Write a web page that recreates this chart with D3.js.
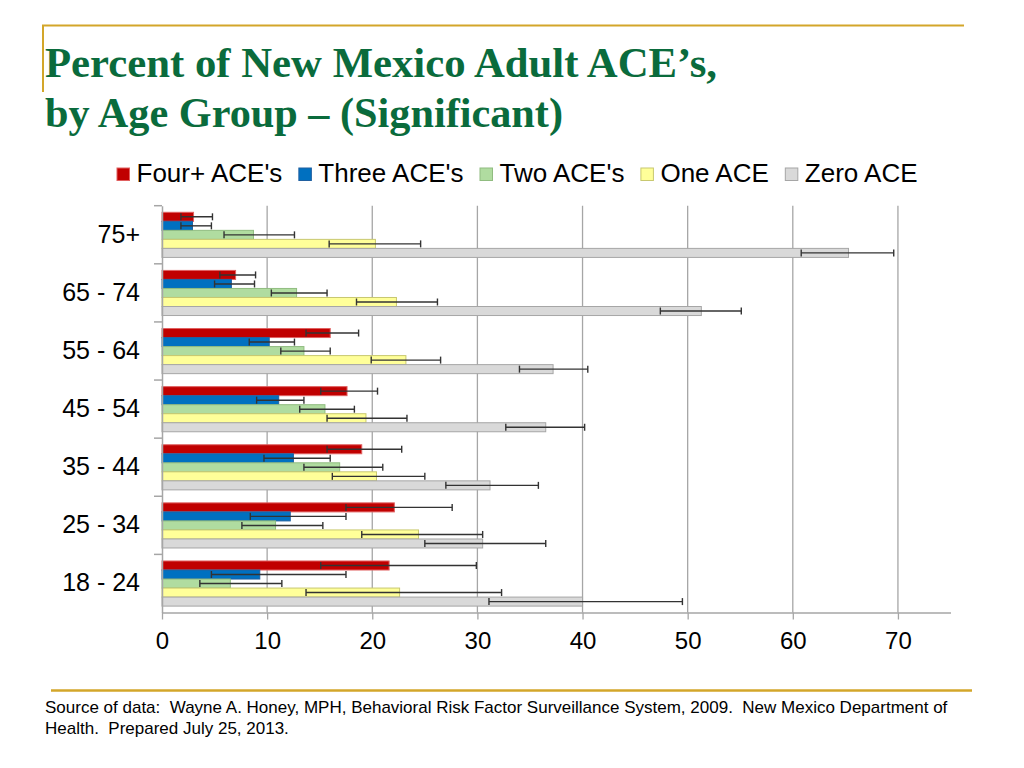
<!DOCTYPE html>
<html>
<head>
<meta charset="utf-8">
<script src="https://cdn.jsdelivr.net/npm/d3@7/dist/d3.min.js"></script>
<style>
  html, body { margin: 0; padding: 0; background: #fff; }
  svg { display: block; }
  text { font-family: "Liberation Sans", Arial, sans-serif; }
</style>
</head>
<body>
<svg id="chart" width="1024" height="768"></svg>
<script>
// ---------------- DATA ----------------
const categories = ["75+", "65 - 74", "55 - 64", "45 - 54", "35 - 44", "25 - 34", "18 - 24"];
const seriesNames = ["Four+ ACE's", "Three ACE's", "Two ACE's", "One ACE", "Zero ACE"];
const seriesFill   = ["#C00000", "#0070C0", "#B0DCA0", "#FFFF99", "#D9D9D9"];
const seriesStroke = ["#E06060", "#2060A0", "#90BC80", "#C8C870", "#A6A6A6"];

const fourVal   = [3.0, 7.0, 16.0, 17.6, 19.0, 22.1, 21.6];
const fourLo    = [1.8, 5.5, 13.7, 15.1, 15.7, 17.5, 15.1];
const fourHi    = [4.8, 8.9, 18.7, 20.5, 22.8, 27.6, 29.9];
const threeVal  = [2.9, 6.6, 10.2, 11.1, 12.5, 12.2, 9.3];
const threeLo   = [1.8, 5.0, 8.3, 9.0, 9.7, 8.4, 4.7];
const threeHi   = [4.7, 8.8, 12.6, 13.5, 16.0, 17.5, 17.5];
const twoVal    = [8.7, 12.8, 13.5, 15.5, 16.9, 10.8, 6.5];
const twoLo     = [5.9, 10.4, 11.3, 13.1, 13.5, 7.6, 3.6];
const twoHi     = [12.6, 15.7, 16.0, 18.3, 21.0, 15.3, 11.4];
const oneVal    = [20.3, 22.3, 23.2, 19.4, 20.4, 24.4, 22.6];
const oneLo     = [15.9, 18.5, 19.9, 15.7, 16.2, 19.0, 13.7];
const oneHi     = [24.6, 26.2, 26.5, 23.3, 25.0, 30.5, 32.3];
const zeroVal   = [65.3, 51.3, 37.2, 36.5, 31.2, 30.5, 40.0];
const zeroLo    = [60.8, 47.4, 34.0, 32.7, 27.0, 25.0, 31.1];
const zeroHi    = [69.6, 55.1, 40.5, 40.2, 35.8, 36.5, 49.5];

const xTicks = [0, 10, 20, 30, 40, 50, 60, 70];

const titleLines = ["Percent of New Mexico Adult ACE\u2019s,", "by Age Group \u2013 (Significant)"];
const sourceLines = [
  "Source of data:  Wayne A. Honey, MPH, Behavioral Risk Factor Surveillance System, 2009.  New Mexico Department of",
  "Health.  Prepared July 25, 2013."
];

const seriesVals = [fourVal, threeVal, twoVal, oneVal, zeroVal];
const seriesLo = [fourLo, threeLo, twoLo, oneLo, zeroLo];
const seriesHi = [fourHi, threeHi, twoHi, oneHi, zeroHi];

// ---------------- LAYOUT ----------------
const svg = d3.select("#chart");
const gold = "#D3A62A";
const plot = { left: 162, right: 950.5, top: 205.7, bottom: 612.5 };

// decorative frame lines
svg.append("line").attr("x1", 42).attr("x2", 964).attr("y1", 25.5).attr("y2", 25.5)
  .attr("stroke", gold).attr("stroke-width", 2);
svg.append("line").attr("x1", 43).attr("x2", 43).attr("y1", 25).attr("y2", 92)
  .attr("stroke", gold).attr("stroke-width", 2);
svg.append("line").attr("x1", 51).attr("x2", 972).attr("y1", 690.5).attr("y2", 690.5)
  .attr("stroke", gold).attr("stroke-width", 2.5);

// title
const titleWidths = [672, 518];
svg.selectAll("text.title").data(titleLines).join("text")
  .attr("class", "title")
  .attr("x", 45).attr("y", (d, i) => 77 + i * 50)
  .attr("textLength", (d, i) => titleWidths[i])
  .attr("lengthAdjust", "spacingAndGlyphs")
  .style("font-family", "'Liberation Serif', 'Times New Roman', serif")
  .style("font-weight", "bold")
  .style("font-size", "42px")
  .attr("fill", "#0A6B3C")
  .text(d => d);

// scales
const x = d3.scaleLinear().domain([0, 75]).range([plot.left, plot.right]);
const y = d3.scaleBand().domain(categories).range([plot.top, plot.bottom]).paddingInner(0).paddingOuter(0);
const barSub = d3.scaleBand().domain(d3.range(seriesNames.length))
  .range([6.6, y.bandwidth() - 6.4]).paddingInner(0);

// gridlines
const gridColor = "#A6A6A6";
svg.append("g").selectAll("line").data(xTicks.filter(t => t > 0)).join("line")
  .attr("x1", d => x(d)).attr("x2", d => x(d))
  .attr("y1", plot.top).attr("y2", plot.bottom)
  .attr("stroke", gridColor).attr("stroke-width", 1.3);

// bars
const gBars = svg.append("g");
seriesNames.forEach((name, s) => {
  const g = gBars.append("g");
  g.selectAll("rect").data(categories).join("rect")
    .attr("x", x(0))
    .attr("y", c => y(c) + barSub(s))
    .attr("width", (c, i) => x(seriesVals[s][i]) - x(0))
    .attr("height", barSub.bandwidth())
    .attr("fill", seriesFill[s])
    .attr("stroke", seriesStroke[s])
    .attr("stroke-width", 1);
});

// error bars
const errColor = "#333333";
seriesNames.forEach((name, s) => {
  const g = gBars.append("g");
  categories.forEach((c, i) => {
    const cy = y(c) + barSub(s) + barSub.bandwidth() / 2;
    const x1 = x(seriesLo[s][i]), x2 = x(seriesHi[s][i]);
    g.append("line").attr("x1", x1).attr("x2", x2).attr("y1", cy).attr("y2", cy)
      .attr("stroke", errColor).attr("stroke-width", 1.4);
    [x1, x2].forEach(xx => {
      g.append("line").attr("x1", xx).attr("x2", xx).attr("y1", cy - 3.5).attr("y2", cy + 3.5)
        .attr("stroke", errColor).attr("stroke-width", 1.4);
    });
  });
});

// x axis
const xAxis = d3.axisBottom(x).tickValues(xTicks).tickSize(7).tickSizeOuter(0).tickPadding(12);
const gx = svg.append("g").attr("transform", `translate(0,${plot.bottom})`).call(xAxis);
gx.select(".domain").attr("stroke", gridColor).attr("stroke-width", 1.5);
gx.selectAll(".tick line").attr("stroke", gridColor).attr("stroke-width", 1.3);
gx.selectAll(".tick text")
  .style("font-family", "'Liberation Sans', Arial, sans-serif")
  .style("font-size", "24px").attr("fill", "#000");

// y axis (labels centered, ticks at band boundaries)
const yAxis = d3.axisLeft(y).tickSize(0).tickPadding(22);
const gy = svg.append("g").attr("transform", `translate(${plot.left},0)`).call(yAxis);
gy.select(".domain").attr("stroke", gridColor).attr("stroke-width", 1.5);
gy.selectAll(".tick text")
  .style("font-family", "'Liberation Sans', Arial, sans-serif")
  .style("font-size", "25px").attr("fill", "#000");
svg.append("g").selectAll("line").data(categories).join("line")
  .attr("x1", plot.left - 8).attr("x2", plot.left)
  .attr("y1", c => y(c)).attr("y2", c => y(c))
  .attr("stroke", gridColor).attr("stroke-width", 1.5);

// legend
const legend = svg.append("g");
let lx = 117;
seriesNames.forEach((name, s) => {
  legend.append("rect").attr("x", lx).attr("y", 168).attr("width", 12.5).attr("height", 12.5)
    .attr("fill", seriesFill[s]).attr("stroke", seriesStroke[s]).attr("stroke-width", 1);
  const t = legend.append("text").attr("x", lx + 19.5).attr("y", 181.5)
    .style("font-family", "'Liberation Sans', Arial, sans-serif")
    .style("font-size", "26px").attr("fill", "#000").text(name);
  lx += 19.5 + t.node().getComputedTextLength() + 16.5;
});

// source footnote
svg.selectAll("text.src").data(sourceLines).join("text")
  .attr("class", "src")
  .attr("x", 45).attr("y", (d, i) => 713 + i * 21)
  .attr("xml:space", "preserve")
  .style("white-space", "pre")
  .style("font-family", "'Liberation Sans', Arial, sans-serif")
  .style("font-size", "17px").attr("fill", "#000")
  .text(d => d);
</script>
</body>
</html>
